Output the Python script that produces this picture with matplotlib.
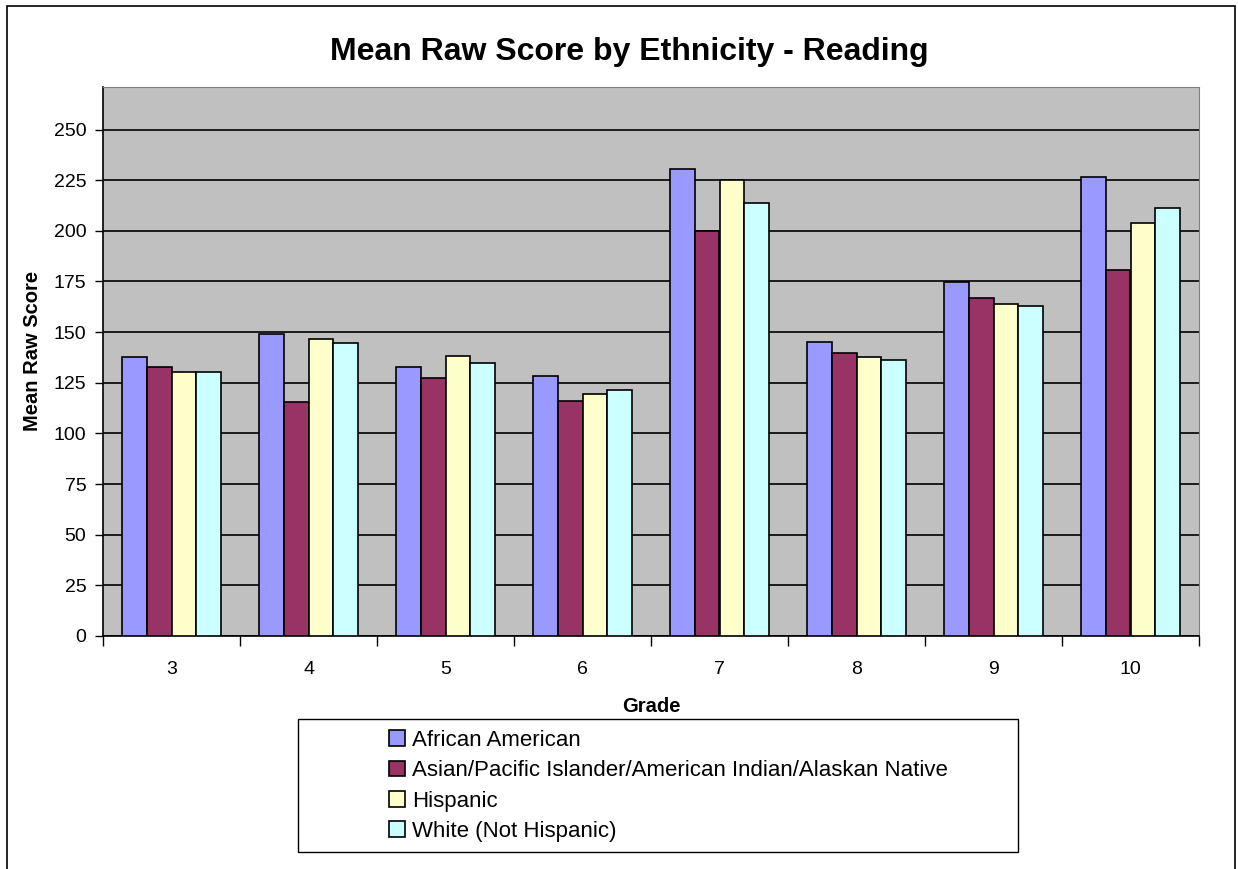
import numpy as np
import matplotlib
matplotlib.use("Agg")
import matplotlib.pyplot as plt
from matplotlib.patches import Rectangle

plt.rcParams['font.family'] = ['Liberation Sans', 'DejaVu Sans']

grades = ['3', '4', '5', '6', '7', '8', '9', '10']
groups = ['African American',
          'Asian/Pacific Islander/American Indian/Alaskan Native',
          'Hispanic',
          'White (Not Hispanic)']
african = [137.7, 149.2, 132.9, 128.1, 230.4, 145.0, 174.7, 226.8]
asian = [132.9, 115.4, 127.5, 116.1, 200.0, 139.6, 166.7, 180.9]
hispanic = [130.1, 146.4, 138.4, 119.4, 225.0, 137.6, 163.9, 204.1]
white = [130.1, 144.4, 134.9, 121.3, 213.6, 136.1, 162.8, 211.5]
colors = ['#9999FF', '#993366', '#FFFFCC', '#CCFFFF']

W, H = 1238, 869
fig = plt.figure(figsize=(W / 100, H / 100), dpi=100)

# outer chart frame
fig.patches.append(Rectangle((7 / W, -0.05), 1228 / W, 1.05 - 6 / H,
                             transform=fig.transFigure, fill=False,
                             edgecolor='black', linewidth=1.2))

ax = fig.add_axes([103 / W, 1 - 636 / H, (1199 - 103) / W, (636 - 87) / H])
ax.set_facecolor('#C0C0C0')

x = np.arange(len(grades))
bw = 0.182
series = [african, asian, hispanic, white]
for i, (vals, c, lab) in enumerate(zip(series, colors, groups)):
    ax.bar(x + (i - 1.5) * bw, vals, bw, color=c, edgecolor='black',
           linewidth=1.2, label=lab, zorder=3)

ax.set_ylim(0, 271)
ax.set_xlim(-0.5, len(grades) - 0.5)
ax.set_yticks(np.arange(0, 251, 25))
ax.yaxis.grid(True, color='black', linewidth=1.2, zorder=0)
ax.set_axisbelow(True)

# tick marks between categories, labels at category centres
ax.set_xticks(np.arange(-0.5, len(grades)), labels=[])
ax.set_xticks(x, labels=grades, minor=True)
ax.tick_params(axis='x', which='major', length=7, width=1, direction='out')
ax.tick_params(axis='x', which='minor', length=0, pad=18, labelsize=14)
ax.tick_params(axis='y', length=6, width=1, direction='out', labelsize=14, pad=6)

for s in ['top', 'right']:
    ax.spines[s].set_color('#808080')
for s in ['left', 'bottom']:
    ax.spines[s].set_color('black')
    ax.spines[s].set_linewidth(1.2)

ax.set_xlabel('Grade', fontsize=14.5, fontweight='bold', labelpad=14)
ax.set_ylabel('Mean Raw Score', fontsize=14.5, fontweight='bold')
ax.yaxis.set_label_coords(-0.056, 0.52)
fig.text(629 / W, 1 - 52 / H, 'Mean Raw Score by Ethnicity - Reading',
         ha='center', va='center', fontsize=23, fontweight='bold')

# legend box below the axis
fig.patches.append(Rectangle((298 / W, 1 - 852 / H), (1018 - 298) / W, 133 / H,
                             transform=fig.transFigure, fill=False,
                             edgecolor='black', linewidth=1))
fig.legend(loc='upper left', bbox_to_anchor=(389 / W, 1 - 730 / H),
           frameon=False, fontsize=16, handlelength=0.7, handleheight=0.7,
           handletextpad=0.35, labelspacing=0.42, borderpad=0, borderaxespad=0)

fig.savefig('out.png', dpi=100)
